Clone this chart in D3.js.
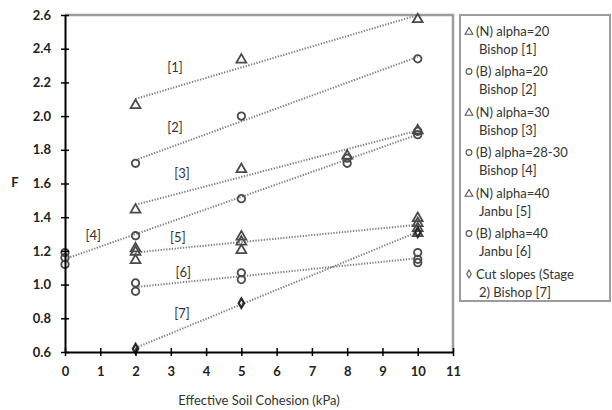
<!DOCTYPE html>
<html><head><meta charset="utf-8">
<script src="https://cdn.jsdelivr.net/npm/d3@7"></script>
<style>
body{margin:0;background:#fff}
text{font-family:Lato,"Open Sans",sans-serif}
</style>
</head><body>
<svg id="c" width="612" height="410"></svg>
<script>
// ---------- data ----------
const xTicks = [0,1,2,3,4,5,6,7,8,9,10,11];
const yTicks = [0.6,0.8,1.0,1.2,1.4,1.6,1.8,2.0,2.2,2.4,2.6];

const s1X = [2,5,10];            const s1Y = [2.07,2.34,2.58];
const s2X = [2,5,10];            const s2Y = [1.72,2.00,2.34];
const s3X = [2,5,8,10];          const s3Y = [1.45,1.69,1.77,1.92];
const s4X = [0,0,0,2,5,8,8,10,10];
const s4Y = [1.12,1.16,1.19,1.29,1.51,1.72,1.75,1.89,1.91];
const s5X = [2,2,2,5,5,5,10,10,10,10];
const s5Y = [1.15,1.20,1.22,1.21,1.26,1.29,1.31,1.34,1.37,1.40];
const s6X = [2,2,5,5,10,10,10];
const s6Y = [0.96,1.01,1.03,1.07,1.13,1.15,1.19];
const s7X = [2,5,10];            const s7Y = [0.62,0.89,1.31];

const legendLine1 = ["(N) alpha=20","(B) alpha=20","(N) alpha=30","(B) alpha=28-30","(N) alpha=40","(B) alpha=40","Cut slopes (Stage"];
const legendLine2 = ["Bishop [1]","Bishop [2]","Bishop [3]","Bishop [4]","Janbu [5]","Janbu [6]","2) Bishop [7]"];
const shapes = ["tri","circ","tri","circ","tri","circ","dia"];

const annText = ["[1]","[2]","[3]","[4]","[5]","[6]","[7]"];
const annX = [3.12,3.12,3.32,0.80,3.20,3.35,3.32];
const annY = [2.29,1.935,1.66,1.294,1.277,1.075,0.83];

const xTitle = "Effective Soil Cohesion (kPa)";
const yTitle = "F";

// ---------- build ----------
const seriesXs = [s1X,s2X,s3X,s4X,s5X,s6X,s7X];
const seriesYs = [s1Y,s2Y,s3Y,s4Y,s5Y,s6Y,s7Y];
const series = seriesXs.map((xs,i)=>({shape:shapes[i], pts: xs.map((x,j)=>({x, y: seriesYs[i][j]}))}));

const svg = d3.select("#c");
const L=65, R=453, T=15, B=352;
const x = d3.scaleLinear().domain([0,11]).range([L,R]);
const y = d3.scaleLinear().domain([0.6,2.6]).range([B,T]);

// plot frame (top & right gray)
svg.append("path")
  .attr("d",`M${L},${T}H${R}V${B}`)
  .attr("fill","none").attr("stroke","#9c9c9c").attr("stroke-width",2.5);

// trend lines (least squares)
function fit(pts){
  const mx=d3.mean(pts,d=>d.x), my=d3.mean(pts,d=>d.y);
  const sxy=d3.sum(pts,d=>(d.x-mx)*(d.y-my)), sxx=d3.sum(pts,d=>(d.x-mx)**2);
  const b=sxy/sxx, a=my-b*mx;
  const [x0,x1]=d3.extent(pts,d=>d.x);
  return [{x:x0,y:a+b*x0},{x:x1,y:a+b*x1}];
}
const line = d3.line().x(d=>x(d.x)).y(d=>y(d.y));
svg.append("g").selectAll("path").data(series).join("path")
  .attr("d",d=>line(fit(d.pts)))
  .attr("fill","none").attr("stroke","#7f7f7f").attr("stroke-width",2)
  .attr("stroke-dasharray","1.3,1.5");

// markers
function sym(shape, size){
  const t = shape==="tri"?d3.symbolTriangle: shape==="circ"?d3.symbolCircle: d3.symbolDiamond;
  return d3.symbol().type(t).size(size)();
}
const mg = svg.append("g");
series.forEach(s=>{
  mg.selectAll(null).data(s.pts).join("path")
    .attr("transform",d=>`translate(${x(d.x)},${y(d.y)+(s.shape==="tri"?1:0)})`)
    .attr("d", sym(s.shape, s.shape==="dia"?26:(s.shape==="tri"?42:44)))
    .attr("fill", "none")
    .attr("stroke", s.shape==="dia"?"#2a2a2a":"#4a4a4a")
    .attr("stroke-width", s.shape==="dia"?2.2:1.8);
});

// annotations
svg.append("g").selectAll("text").data(annText).join("text")
  .attr("x",(d,i)=>x(annX[i])).attr("y",(d,i)=>y(annY[i]))
  .attr("dy","0.35em").attr("text-anchor","middle")
  .attr("font-size",13).attr("fill","#333").text(d=>d);

// axes
const gy = svg.append("g").attr("transform",`translate(${L},0)`)
  .call(d3.axisLeft(y).tickValues(yTicks).tickFormat(d3.format(".1f")).tickSizeInner(4).tickSizeOuter(0).tickPadding(10));
gy.selectAll(".tick line").attr("x1",-4).attr("x2",4).attr("stroke","#000").attr("stroke-width",1.5);
gy.select(".domain").attr("stroke","#000").attr("stroke-width",2);
gy.selectAll("text").attr("font-size",13).attr("fill","#222").attr("font-family","Lato").attr("font-weight","bold");

const gx = svg.append("g").attr("transform",`translate(0,${B})`)
  .call(d3.axisBottom(x).tickValues(xTicks).tickFormat(d3.format("d")).tickSizeInner(4).tickSizeOuter(0).tickPadding(11));
gx.selectAll(".tick line").attr("y1",-4).attr("y2",4).attr("stroke","#000").attr("stroke-width",1.5);
gx.select(".domain").attr("stroke","#000").attr("stroke-width",2);
gx.selectAll("text").attr("font-size",13).attr("fill","#222").attr("font-family","Lato").attr("font-weight","bold");

svg.append("text").attr("x",15).attr("y",182).attr("dy","0.35em").attr("text-anchor","middle")
  .attr("font-size",13).attr("font-weight","bold").attr("fill","#222").text(yTitle);
svg.append("text").attr("x",259).attr("y",400).attr("dy","0.35em").attr("text-anchor","middle")
  .attr("font-size",13).attr("fill","#333").text(xTitle);

// legend
const lg = svg.append("g");
lg.append("rect").attr("x",460).attr("y",15).attr("width",150).attr("height",286)
  .attr("fill","#fff").attr("stroke","#9c9c9c").attr("stroke-width",2);
const step = 40.5, y0 = 31;
legendLine1.forEach((t,i)=>{
  const yy = y0 + i*step;
  lg.append("path").attr("transform",`translate(${469},${yy+(shapes[i]==="tri"?1:0)})`)
    .attr("d", sym(shapes[i], shapes[i]==="dia"?18:26))
    .attr("fill","none").attr("stroke","#555").attr("stroke-width",1.1);
  lg.append("text").attr("x",476).attr("y",yy).attr("dy","0.35em")
    .attr("font-size",13).attr("fill","#333").text(t);
  lg.append("text").attr("x",479).attr("y",yy+18).attr("dy","0.35em")
    .attr("font-size",13).attr("fill","#333").text(legendLine2[i]);
});
</script>
</body></html>
